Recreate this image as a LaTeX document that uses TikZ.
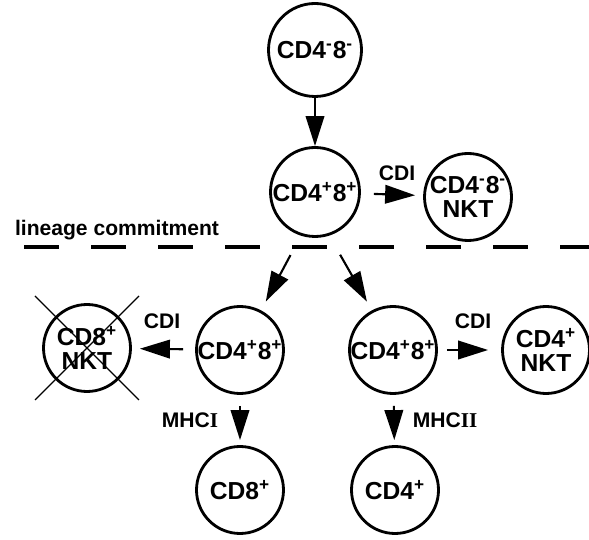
\documentclass[tikz,border=0pt]{standalone}
\usepackage{fontspec}
\setmainfont{Liberation Serif}
\setsansfont{Liberation Sans}
\usetikzlibrary{arrows.meta}

\begin{document}
\begin{tikzpicture}[
	cell/.style={draw, circle, line width=1.6pt, minimum size=1.74cm, inner sep=0pt, align=center,
		font=\sffamily\bfseries\fontsize{14}{14}\selectfont},
	arr/.style={line width=1.2pt, -{Triangle[length=0.6cm,width=0.37cm]}},
	lbl/.style={font=\sffamily\bfseries\fontsize{12}{14}\selectfont}
	]
	\useasboundingbox (0,0) rectangle (11.78,10.8);
	% Zellen oben
	\node[cell, minimum size=1.86cm] (dn) at (6.30,9.80) {CD4\textsuperscript{-}8\textsuperscript{-}};
	\node[cell, minimum size=1.78cm] (dp) at (6.30,6.96) {CD4\textsuperscript{+}8\textsuperscript{+}};
	\node[cell] (dnkt) at (9.36,6.86) {CD4\textsuperscript{-}8\textsuperscript{-}\\NKT};
	% Zellen unten
	\node[cell] (dpl) at (4.80,3.80) {CD4\textsuperscript{+}8\textsuperscript{+}};
	\node[cell] (dpr) at (7.86,3.80) {CD4\textsuperscript{+}8\textsuperscript{+}};
	\node[cell] (cdnkt) at (1.74,3.84) {CD8\textsuperscript{+}\\NKT};
	\node[cell] (cfnkt) at (10.92,3.80) {CD4\textsuperscript{+}\\NKT};
	\node[cell] (cd8) at (4.80,1.00) {CD8\textsuperscript{+}};
	\node[cell] (cd4) at (7.90,1.00) {CD4\textsuperscript{+}};
	% Kreuz
	\draw[line width=0.7pt] ([shift={(-1.04,1.04)}]cdnkt.center) -- ([shift={(1.04,-1.04)}]cdnkt.center);
	\draw[line width=0.7pt] ([shift={(1.04,1.04)}]cdnkt.center) -- ([shift={(-1.04,-1.04)}]cdnkt.center);
	% lineage commitment
	\draw[line width=2.3pt, dash pattern=on 0.7cm off 0.64cm] (0.48,5.86) -- (11.78,5.86);
	\node[lbl] (lc) at (2.34,6.2) {lineage commitment};
	% Pfeile
	\draw[arr] (dn) -- (dp);
	\draw[arr, shorten <=0.26cm, shorten >=0.16cm] (dp) -- (dnkt);
	\draw[arr, shorten <=0.44cm, shorten >=0.2cm] (dp.252) -- (dpl.62);
	\draw[arr, shorten <=0.44cm, shorten >=0.2cm] (dp.288) -- (dpr.118);
	\draw[arr, shorten <=0.24cm, shorten >=0.16cm] (dpl) -- (cdnkt);
	\draw[arr, shorten <=0.18cm, shorten >=0.26cm] (dpr) -- (cfnkt);
	\draw[arr, shorten <=0.22cm, shorten >=0.1cm] (dpl) -- (cd8);
	\draw[arr, shorten <=0.22cm, shorten >=0.1cm] (dpr) -- (cd4);
	% labels
	\node[lbl] (cdiA) at (7.94,7.34) {CDI};
	\node[lbl] (cdiB) at (3.24,4.38) {CDI};
	\node[lbl] (cdiC) at (9.46,4.38) {CDI};
	\node[lbl] (mhcA) at (3.80,2.40) {MHC{\rmfamily I}};
	\node[lbl] (mhcB) at (8.90,2.40) {MHC{\rmfamily II}};
\end{tikzpicture}
\end{document}
